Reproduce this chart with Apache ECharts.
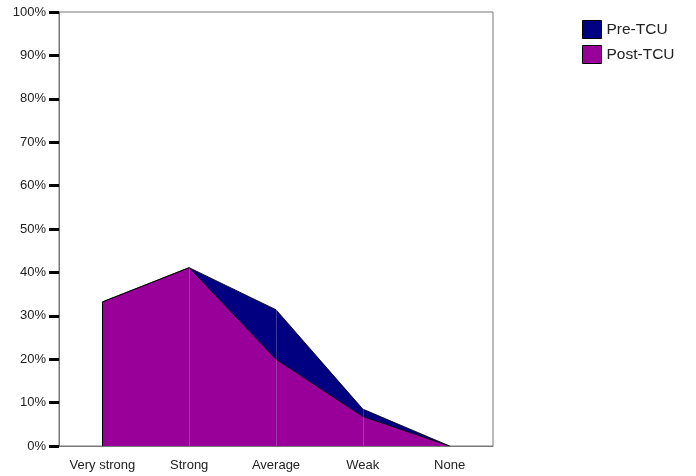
<!DOCTYPE html>
<html>
<head>
<meta charset="utf-8">
<script src="https://cdn.jsdelivr.net/npm/echarts@6/dist/echarts.min.js"></script>
<style>html,body{margin:0;padding:0;background:#fff}#c{width:696px;height:476px}</style>
</head>
<body>
<div id="c"></div>
<script>
var categories = ['Very strong', 'Strong', 'Average', 'Weak', 'None'];
var preTCU = [33.2, 41.1, 31.4, 8.5, 0];
var postTCU = [33.2, 41.1, 20.0, 6.8, 0];
var yTicks = [0, 10, 20, 30, 40, 50, 60, 70, 80, 90, 100];

var font = 'Liberation Sans, Arial, sans-serif';
var chart = echarts.init(document.getElementById('c'), null, {renderer: 'canvas'});

var edgeLines = [
  [{coord: [categories[0], 0]}, {coord: [categories[0], postTCU[0]]}]
];
var faintLines = [];
for (var i = 1; i < categories.length - 1; i++) {
  faintLines.push([{coord: [categories[i], 0]}, {coord: [categories[i], Math.max(preTCU[i], postTCU[i])]}]);
}

chart.setOption({
  animation: false,
  grid: {left: 59, right: 203, top: 12, bottom: 30, show: true, borderColor: '#777', borderWidth: 1, backgroundColor: '#fff'},
  legend: {
    left: 582, top: 20, padding: 0, orient: 'vertical', icon: 'rect', itemWidth: 19, itemHeight: 18, itemGap: 6,
    textStyle: {fontFamily: font, fontSize: 15.5, color: '#222'},
    data: [
      {name: 'Pre-TCU', itemStyle: {borderColor: '#000', borderWidth: 1}},
      {name: 'Post-TCU', itemStyle: {borderColor: '#000', borderWidth: 1}}
    ]
  },
  xAxis: {
    type: 'category', data: categories, boundaryGap: true,
    axisLine: {lineStyle: {color: '#777', width: 1}},
    axisTick: {alignWithLabel: true, length: 7, lineStyle: {color: '#000', width: 3}},
    axisLabel: {fontFamily: font, fontSize: 13, color: '#222', margin: 13}
  },
  yAxis: {
    type: 'value', min: 0, max: 100, interval: 10,
    axisLine: {show: true, lineStyle: {color: '#777', width: 1}},
    axisTick: {show: true, length: 10, lineStyle: {color: '#000', width: 3}},
    axisLabel: {fontFamily: font, fontSize: 13, color: '#222', margin: 13, formatter: '{value}%'},
    splitLine: {show: false}
  },
  series: [
    {
      name: 'Pre-TCU', type: 'line', data: preTCU, symbol: 'none', color: '#000080',
      lineStyle: {color: '#000', width: 0.8},
      areaStyle: {color: '#000080', opacity: 1}
    },
    {
      name: 'Post-TCU', type: 'line', data: postTCU, symbol: 'none', color: '#990099',
      lineStyle: {color: '#000', width: 0.8},
      areaStyle: {color: '#990099', opacity: 1},
      markLine: {
        silent: true, symbol: 'none', label: {show: false},
        data: edgeLines.map(function (d) { return [Object.assign({lineStyle: {color: '#000', width: 1, type: 'solid'}}, d[0]), d[1]]; })
          .concat(faintLines.map(function (d) { return [Object.assign({lineStyle: {color: 'rgba(190,180,220,0.3)', width: 1, type: 'solid'}}, d[0]), d[1]]; }))
      }
    }
  ]
});
</script>
</body>
</html>
